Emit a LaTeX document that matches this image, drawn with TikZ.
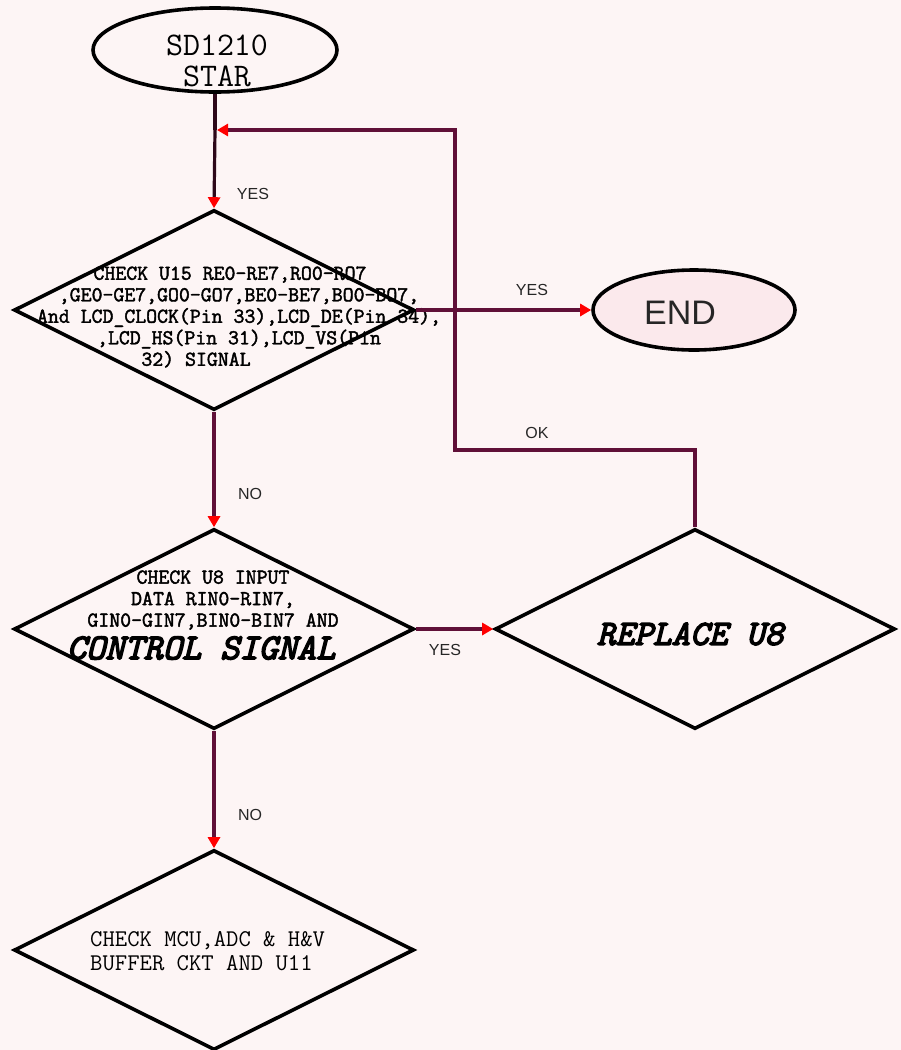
\documentclass[tikz,border=0pt]{standalone}
\usepackage{fontspec}
\newfontfamily\lsans{Liberation Sans}
\newfontfamily\courb{Latin Modern Mono}[FakeBold=2]
\newfontfamily\courbb{Latin Modern Mono}[FakeBold=4]
\usetikzlibrary{shapes.geometric,arrows.meta}
\definecolor{bgpink}{RGB}{253,245,245}
\definecolor{wire}{RGB}{96,16,56}
\definecolor{darkwire}{RGB}{45,8,25}
\definecolor{endfill}{RGB}{251,233,236}
\begin{document}
\begin{tikzpicture}[x=1pt,y=-1pt,
  dia/.style={diamond, draw=black, line width=3.6pt, minimum width=400pt, minimum height=200pt, inner sep=0pt, aspect=2},
  oval/.style={ellipse, draw=black, line width=3.6pt, inner sep=0pt},
  wireline/.style={draw=wire, line width=3.2pt},
  arr/.style={-{Triangle[length=11pt,width=12pt,color=red]}},
  lbl/.style={font=\lsans\fontsize{16}{18}\selectfont, text=black!85},
  smalltxt/.style={font=\courb\fontsize{21.2}{21.5}\selectfont, align=center, inner sep=0pt},
  bigtxt/.style={font=\courbb\itshape\fontsize{36.5}{38}\selectfont, inner sep=0pt}
]
\fill[bgpink] (0,0) rectangle (901,1050);
\useasboundingbox (0,0) rectangle (901,1050);

% shapes
\node[oval, minimum width=244pt, minimum height=84pt] (start) at (215,50) {};
\node[font=\ttfamily\fontsize{33}{36}\selectfont, inner sep=0pt, anchor=base] (starttxt1) at (217,55) {SD1210};
\node[font=\ttfamily\fontsize{33}{36}\selectfont, inner sep=0pt, anchor=base] (starttxt2) at (217,86) {STAR};

\node[oval, fill=endfill, minimum width=202pt, minimum height=80pt] (end) at (694,310) {};
\node[font=\lsans\fontsize{34}{36}\selectfont, inner sep=0pt, text=black!85] (endtxt) at (680,313) {END};

\node[dia] (d1) at (214,310) {};
\node[smalltxt] (d1txt) at (239,317) {CHECK U15 RE0-RE7,RO0-RO7\hspace*{18pt}\\
,GE0-GE7,GO0-GO7,BE0-BE7,BO0-BO7,\\
And LCD\_CLOCK(Pin 33),LCD\_DE(Pin 34),\\
,LCD\_HS(Pin 31),LCD\_VS(Pin\hspace*{6pt}\\
32) SIGNAL\hspace*{86pt}};

\node[dia] (d2) at (214,629) {};
\node[smalltxt] (d2txt) at (213,600) {CHECK U8 INPUT\\DATA RIN0-RIN7,\\GIN0-GIN7,BIN0-BIN7 AND};
\node[bigtxt] (d2big) at (201,648) {CONTROL SIGNAL};

\node[dia] (rep) at (695,629) {};
\node[bigtxt, font=\courbb\itshape\fontsize{35.5}{38}\selectfont] (reptxt) at (690,634) {REPLACE U8};

\node[dia] (d3) at (214,950) {};
\node[font=\ttfamily\fontsize{24}{24}\selectfont, align=left, inner sep=0pt, anchor=west] (d3txt) at (90,951) {CHECK MCU,ADC \& H\&V\\BUFFER CKT AND U11};

% junctions
\coordinate (j) at (start.south |- 0,130);
\coordinate (k1) at (455,450);

% connectors
\draw[draw=darkwire, line width=3.2pt] (start.south) -- (j);
\draw[draw=darkwire, line width=3.2pt, arr] (j) -- (d1.north);
\draw[wireline, arr] (rep.north) |- (k1) |- ([xshift=2pt]j);
\draw[wireline, arr] (d1.east) -- (end.west);
\draw[wireline, arr] (d1.south) -- (d2.north);
\draw[wireline, arr] (d2.east) -- (rep.west);
\draw[wireline, arr] (d2.south) -- (d3.north);

% labels
\node[lbl] (l1) at (253,194) {YES};
\node[lbl] (l2) at (532,290) {YES};
\node[lbl] (l3) at (537,433) {OK};
\node[lbl] (l4) at (250,494) {NO};
\node[lbl] (l5) at (445,650) {YES};
\node[lbl] (l6) at (250,815) {NO};
\end{tikzpicture}
\end{document}
